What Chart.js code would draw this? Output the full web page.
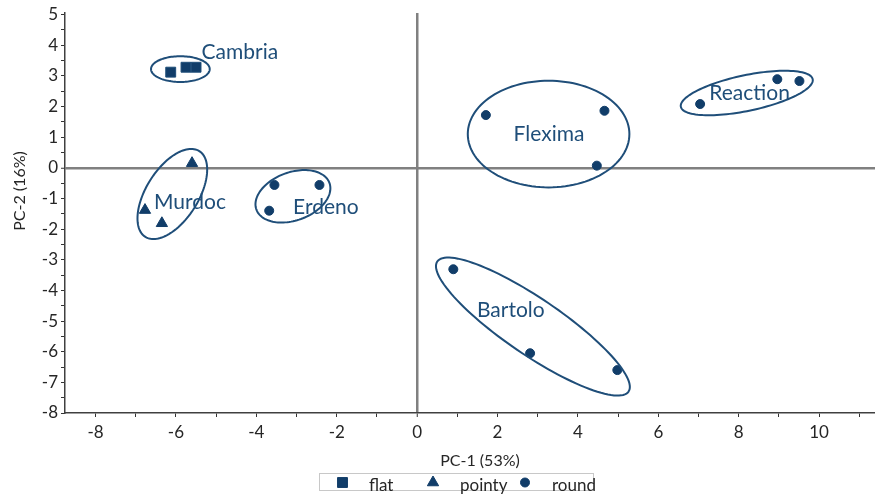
<!DOCTYPE html>
<html lang="en">
<head>
  <meta charset="UTF-8" />
  <title>PCA scores</title>
  <style>
    html, body { margin: 0; padding: 0; background: #fff; overflow: hidden; }
    canvas { display: block; }
  </style>
</head>
<body>

<canvas id="pca" width="875" height="497"></canvas>

<script src="https://cdn.jsdelivr.net/npm/chart.js"></script>
<script>
// scores (PC-1, PC-2)
const flatX = [-6.13, -5.75, -5.50];
const flatY = [3.12, 3.28, 3.28];

const pointyX = [-5.60, -6.77, -6.35];
const pointyY = [0.15, -1.38, -1.81];

const roundX = [-3.55, -2.43, -3.68, 1.71, 4.66, 4.47, 7.04, 8.96, 9.51, 0.90, 2.81, 4.98];
const roundY = [-0.56, -0.56, -1.40, 1.72, 1.86, 0.07, 2.08, 2.89, 2.83, -3.31, -6.05, -6.60];

// cluster names, label anchors and ellipse (centre + two semi-axis vectors, data units)
const clusterNames = ['Cambria', 'Murdoc', 'Erdeno', 'Flexima', 'Reaction', 'Bartolo'];
const labelX = [-4.41, -5.65, -2.27, 3.28, 8.27, 2.33];
const labelY = [3.78, -1.12, -1.28, 1.10, 2.42, -4.64];
const ellCx = [-5.89, -6.09, -3.09, 3.27, 8.20, 2.88];
const ellCy = [3.22, -0.855, -0.93, 1.10, 2.44, -5.18];
const ellUx = [0.73, 0.67, 0.91, 2.01, 1.64, 2.38];
const ellUy = [0, 1.40, 0.43, 0, 0.45, -2.12];
const ellVx = [0, 0.55, 0.20, 0, 0.09, -0.39];
const ellVy = [0.42, -0.45, -0.74, 1.74, -0.57, -0.76];

const xMin = -8.76, xMax = 11.39;
const yMin = -8, yMax = 5.05;

const NAVY = '#113d69';
const INK = '#1f4e79';
const FONT = 'Lato, "Open Sans", sans-serif';

function pts(xs, ys) {
  return xs.map((x, i) => ({ x: x, y: ys[i] }));
}

// ellipses, group names, axis titles and the boxed legend
const extras = {
  id: 'extras',
  afterDatasetsDraw(chart) {
    const ctx = chart.ctx;
    const sx = chart.scales.x, sy = chart.scales.y;
    ctx.save();
    ctx.strokeStyle = INK;
    ctx.lineWidth = 2;
    for (let i = 0; i < clusterNames.length; i++) {
      ctx.beginPath();
      for (let k = 0; k <= 120; k++) {
        const t = k / 120 * Math.PI * 2;
        const vx = ellCx[i] + ellUx[i] * Math.cos(t) + ellVx[i] * Math.sin(t);
        const vy = ellCy[i] + ellUy[i] * Math.cos(t) + ellVy[i] * Math.sin(t);
        const px = sx.getPixelForValue(vx), py = sy.getPixelForValue(vy);
        if (k === 0) ctx.moveTo(px, py); else ctx.lineTo(px, py);
      }
      ctx.closePath();
      ctx.stroke();
    }
    ctx.fillStyle = INK;
    ctx.font = '21px ' + FONT;
    ctx.textAlign = 'center';
    ctx.textBaseline = 'middle';
    clusterNames.forEach((n, i) => {
      ctx.fillText(n, sx.getPixelForValue(labelX[i]), sy.getPixelForValue(labelY[i]));
    });
    ctx.restore();
  },
  afterDraw(chart) {
    const ctx = chart.ctx;
    ctx.save();
    ctx.fillStyle = '#262626';
    ctx.font = '16px ' + FONT;
    ctx.textAlign = 'center';
    ctx.textBaseline = 'middle';
    ctx.fillText('PC-1 (53%)', 480, 461);
    ctx.translate(20, 191);
    ctx.rotate(-Math.PI / 2);
    ctx.fillText('PC-2 (16%)', 0, 0);
    ctx.restore();

    // legend
    ctx.save();
    ctx.strokeStyle = '#c8c8c8';
    ctx.lineWidth = 1;
    ctx.strokeRect(319.5, 473.5, 274, 17);
    const markX = [342.5, 433, 525];
    const textX = [369, 460, 552];
    chart.data.datasets.forEach((ds, i) => {
      ctx.fillStyle = NAVY;
      ctx.strokeStyle = NAVY;
      const opts = { pointStyle: ds.pointStyle, rotation: 0, radius: ds.pointRadius, borderWidth: 1 };
      if (Chart.helpers && Chart.helpers.drawPoint) {
        Chart.helpers.drawPoint(ctx, opts, markX[i], 482.5);
      }
      ctx.fillStyle = '#262626';
      ctx.font = '17px ' + FONT;
      ctx.textAlign = 'left';
      ctx.textBaseline = 'middle';
      ctx.fillText(ds.label, textX[i], 486);
    });
    ctx.restore();
  }
};

const tickCol = '#333333';

new Chart(document.getElementById('pca'), {
  type: 'scatter',
  data: {
    datasets: [
      { label: 'flat', data: pts(flatX, flatY), pointStyle: 'rect', pointRadius: 7,
        backgroundColor: NAVY, borderColor: INK, borderWidth: 1 },
      { label: 'pointy', data: pts(pointyX, pointyY), pointStyle: 'triangle', pointRadius: 6.5,
        backgroundColor: NAVY, borderColor: NAVY, borderWidth: 1 },
      { label: 'round', data: pts(roundX, roundY), pointStyle: 'circle', pointRadius: 4.5,
        backgroundColor: NAVY, borderColor: NAVY, borderWidth: 1 }
    ]
  },
  options: {
    responsive: false,
    animation: false,
    devicePixelRatio: 1,
    layout: { autoPadding: false, padding: { top: 13, right: 0, left: 0, bottom: 0 } },
    plugins: {
      legend: { display: false },
      tooltip: { enabled: false }
    },
    scales: {
      x: {
        type: 'linear',
        min: xMin, max: xMax,
        afterFit(scale) { scale.height = 84; scale.paddingLeft = 0; scale.paddingRight = 0; },
        border: { display: true, color: '#404040', width: 1.5 },
        grid: {
          color: c => (c.tick && c.tick.value === 0) ? '#808080' : 'rgba(0,0,0,0)',
          lineWidth: c => (c.tick && c.tick.value === 0) ? 2.5 : 1,
          tickColor: tickCol, tickWidth: 1, tickLength: 4
        },
        ticks: {
          stepSize: 1, includeBounds: false, autoSkip: false, maxRotation: 0,
          color: '#262626', font: { family: FONT, size: 17 }, padding: 5,
          callback: v => (Math.round(v) % 2 === 0) ? String(Math.round(v)) : ''
        }
      },
      y: {
        type: 'linear',
        min: yMin, max: yMax,
        afterFit(scale) { scale.width = 65; scale.paddingTop = 0; scale.paddingBottom = 0; },
        border: { display: true, color: '#404040', width: 1.5 },
        grid: {
          color: c => (c.tick && c.tick.value === 0) ? '#808080' : 'rgba(0,0,0,0)',
          lineWidth: c => (c.tick && c.tick.value === 0) ? 2.5 : 1,
          tickColor: tickCol, tickWidth: 1, tickLength: 4
        },
        ticks: {
          stepSize: 0.5, includeBounds: false, autoSkip: false,
          color: '#262626', font: { family: FONT, size: 17 }, padding: 3,
          callback: v => Number.isInteger(v) ? String(v) : ''
        }
      }
    }
  },
  plugins: [extras]
});
</script>

</body>
</html>
